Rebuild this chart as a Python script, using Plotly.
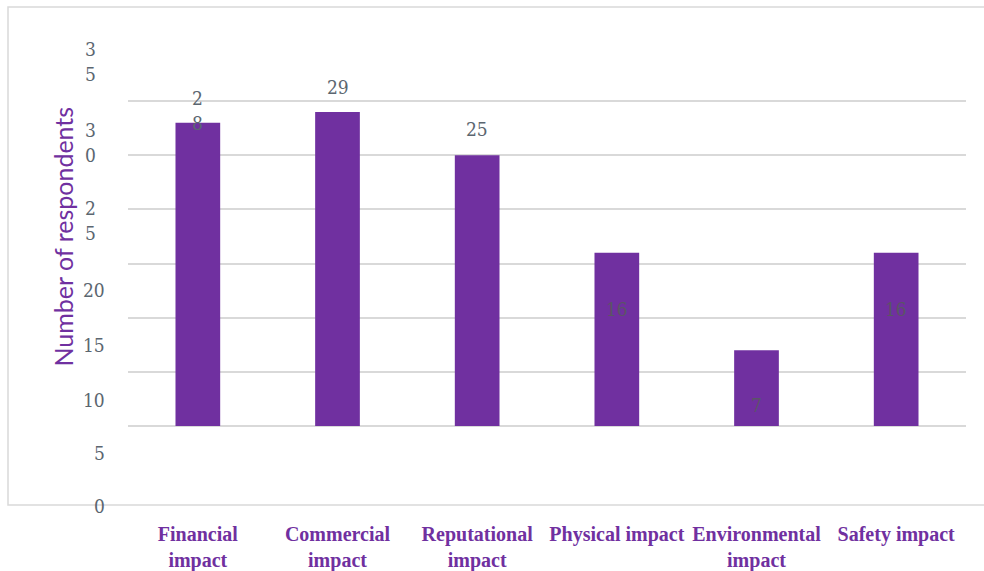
import plotly.graph_objects as go

# Survey data: impact categories and number of respondents
categories = ["Financial impact", "Commercial impact", "Reputational impact",
              "Physical impact", "Environmental impact", "Safety impact"]
category_labels = ["Financial<br>impact", "Commercial<br>impact", "Reputational<br>impact",
                   "Physical impact", "Environmental<br>impact", "Safety impact"]
respondents = [28, 29, 25, 16, 7, 16]

# Value-axis ticks and their printed labels
tick_values = [0, 5, 10, 15, 20, 25, 30, 35]
tick_texts = ["0", "5", "10", "15", "20", "2<br>5", "3<br>0", "3<br>5"]

# Label offsets (pixels) used for the printed labels
tick_yshift = [-80, -81, -82, -81, -81, -65, -41, -14]
value_yshift = [12, 25, 26, -56, -55, -56]

PURPLE = "#7030A0"
GREY_TEXT = "#5b6670"
GRID = "#d9d9d9"
SERIF = "Liberation Serif"
DIGITS = "DejaVu Serif Condensed, DejaVu Serif"

fig = go.Figure(
    go.Bar(
        x=categories,
        y=respondents,
        marker=dict(color=PURPLE, line=dict(width=0)),
        hoverinfo="x+y",
    )
)

annotations = []

# Printed value-axis labels
for v, t, dy in zip(tick_values, tick_texts, tick_yshift):
    wrapped = "<br>" in t
    annotations.append(dict(
        x=0, xref="paper", y=v, yref="y",
        text=t, showarrow=False,
        xanchor="center" if wrapped else "right",
        xshift=-38 if wrapped else -21,
        yanchor="middle", yshift=dy,
        font=dict(family=DIGITS, size=19, color=GREY_TEXT),
    ))

# Value labels on the bars
for c, v, dy in zip(categories, respondents, value_yshift):
    txt = str(v)
    if v == 28:
        txt = "<br>".join(txt)
    annotations.append(dict(
        x=c, xref="x", y=v, yref="y",
        text=txt, showarrow=False,
        xanchor="center", yanchor="middle", yshift=dy,
        font=dict(family=DIGITS, size=19,
                  color="#5a5566" if dy < 0 else GREY_TEXT),
    ))

# Axis title
annotations.append(dict(
    x=0, xref="paper", y=0.5, yref="paper",
    text="Number of respondents", showarrow=False,
    textangle=-90, xanchor="center", yanchor="middle", xshift=-66,
    font=dict(family="Lato", size=25, color=PURPLE),
))

fig.update_layout(
    width=984, height=571,
    margin=dict(l=128, r=18, t=47, b=145),
    paper_bgcolor="white", plot_bgcolor="white",
    bargap=0.68,
    showlegend=False,
    annotations=annotations,
    xaxis=dict(
        tickmode="array", tickvals=categories, ticktext=category_labels,
        tickfont=dict(family=SERIF, size=20, color=PURPLE, weight="bold"),
        showgrid=False, showline=False, zeroline=False, ticks="",
        ticklabelstandoff=94, automargin=False,
    ),
    yaxis=dict(
        range=[0, 35], tickmode="array", tickvals=tick_values,
        showticklabels=False, showgrid=True, gridcolor=GRID, gridwidth=1.5,
        zeroline=True, zerolinecolor=GRID, zerolinewidth=1.5, showline=False,
        automargin=False,
    ),
    shapes=[dict(
        type="rect", xref="paper", yref="paper",
        x0=(8 - 128) / 838, x1=(995 - 128) / 838,
        y0=(426 - 505) / 379, y1=(426 - 7) / 379,
        line=dict(color=GRID, width=1.5), fillcolor="rgba(0,0,0,0)",
        layer="below",
    )],
)

fig.write_html("out.html")
